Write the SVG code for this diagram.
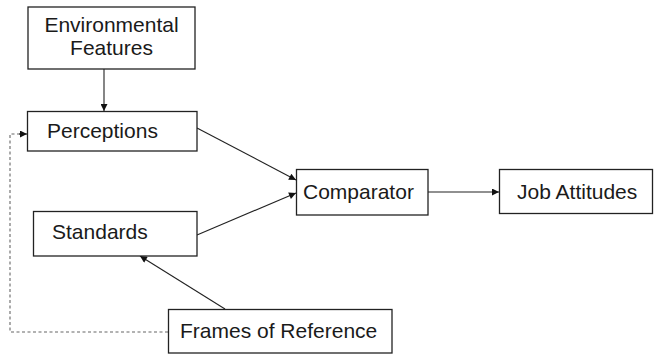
<svg xmlns="http://www.w3.org/2000/svg" width="654" height="355" viewBox="0 0 654 355">
<style>
.box{fill:#fff;stroke:#222;stroke-width:1.3}
.t{font-family:"Liberation Sans",Arial,sans-serif;font-size:21px;fill:#1a1a1a}
.c{stroke:#222;stroke-width:1.1;fill:none}
.d{stroke:#666;stroke-width:1.1;fill:none;stroke-dasharray:3,2.5}
</style>
<defs>
<marker id="ah" viewBox="0 0 10 10" refX="10" refY="5" markerWidth="9" markerHeight="7" markerUnits="userSpaceOnUse" orient="auto">
<path d="M0,0 L10,5 L0,10 z" fill="#111"/>
</marker>
</defs>
<rect width="654" height="355" fill="#fff"/>
<g id="connectors">
<line class="c" x1="104" y1="69" x2="104" y2="111" marker-end="url(#ah)"/>
<line class="c" x1="197" y1="128" x2="296" y2="180" marker-end="url(#ah)"/>
<line class="c" x1="197" y1="235" x2="296" y2="193" marker-end="url(#ah)"/>
<line class="c" x1="428" y1="192" x2="499" y2="192" marker-end="url(#ah)"/>
<line class="c" x1="225" y1="309" x2="140" y2="256" marker-end="url(#ah)"/>
<polyline class="d" points="168,332 10,332 10,134 20,134"/>
<line class="c" x1="19" y1="134" x2="27" y2="134" marker-end="url(#ah)"/>
</g>
<g id="env">
<rect class="box" x="28" y="7" width="167" height="62"/>
<text class="t" x="111.5" y="32" text-anchor="middle">Environmental</text>
<text class="t" x="111.5" y="55" text-anchor="middle">Features</text>
</g>
<g id="perceptions">
<rect class="box" x="27.5" y="111.5" width="169.5" height="39.5"/>
<text class="t" x="47" y="138">Perceptions</text>
</g>
<g id="standards">
<rect class="box" x="33.5" y="211.5" width="163.5" height="44.5"/>
<text class="t" x="52" y="239">Standards</text>
</g>
<g id="comparator">
<rect class="box" x="296.5" y="169.5" width="131.5" height="45.5"/>
<text class="t" x="303" y="199">Comparator</text>
</g>
<g id="job">
<rect class="box" x="499.5" y="169.5" width="153" height="44"/>
<text class="t" x="517" y="199">Job Attitudes</text>
</g>
<g id="frames">
<rect class="box" x="168.5" y="309.5" width="223.5" height="43.5"/>
<text class="t" x="180" y="338">Frames of Reference</text>
</g>
</svg>
